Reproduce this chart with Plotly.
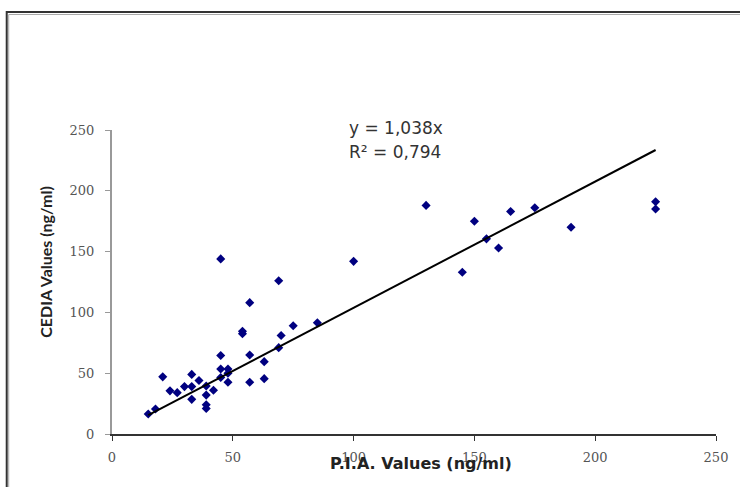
import plotly.graph_objects as go

# Data
pia_values = [15, 18, 21, 24, 27, 30, 33, 33, 33, 36, 39, 39, 39, 39, 42,
              45, 45, 45, 45, 48, 48, 48, 54, 54, 57, 57, 57, 63, 63, 69,
              70, 69, 75, 85, 100, 130, 145, 150, 155, 160, 165, 175, 190, 225, 225]
cedia_values = [16.5, 20.5, 47, 35.5, 34, 39, 49, 39, 28.5, 44, 39.5, 32, 24, 21, 36,
                144, 64.5, 53.5, 46.5, 53.5, 50, 42.5, 82.5, 84.5, 108, 65, 42.5, 59.5, 45.5, 126,
                81, 71, 89, 91.5, 142, 188, 133, 175, 160.5, 153, 183, 186, 170, 191, 185]
slope = 1.038
r2_text = "R² = 0,794"
eq_text = "y = 1,038x"
tick_vals = [0, 50, 100, 150, 200, 250]
x_title = "P.I.A. Values (ng/ml)"
y_title = "CEDIA Values (ng/ml)"

W, H = 740, 487
L, R, T, B = 112, 17, 130, 53
pw, ph = W - L - R, H - T - B


def px_x(p):
    return (p - L) / pw


def px_y(p):
    return (H - B - p) / ph


fig = go.Figure()
fig.add_trace(go.Scatter(
    x=pia_values, y=cedia_values, mode="markers",
    marker=dict(symbol="diamond", size=7, color="#000080", line=dict(width=0)),
    showlegend=False, hoverinfo="x+y"))

x_line = [min(pia_values), max(pia_values)]
fig.add_trace(go.Scatter(
    x=x_line, y=[slope * v for v in x_line], mode="lines",
    line=dict(color="black", width=2), showlegend=False))

tick_font = dict(family="DejaVu Serif", size=13, color="#555555")
fig.update_layout(
    width=W, height=H,
    margin=dict(l=L, r=R, t=T, b=B, pad=0),
    paper_bgcolor="white", plot_bgcolor="white",
    xaxis=dict(range=[0, 250], tickvals=tick_vals, showgrid=False, zeroline=False,
               showline=True, linecolor="#333333", linewidth=1.5,
               ticks="outside", ticklen=5, tickcolor="#333333",
               tickfont=tick_font, ticklabelstandoff=6),
    yaxis=dict(range=[0, 250], tickvals=tick_vals, showgrid=False, zeroline=False,
               showline=True, linecolor="#999999", linewidth=2,
               ticks="outside", ticklen=5, tickcolor="#999999",
               tickfont=tick_font, ticklabelstandoff=8),
    annotations=[
        dict(text=eq_text, xref="paper", yref="paper", x=px_x(350), y=px_y(128),
             xanchor="left", yanchor="middle", showarrow=False,
             font=dict(family="DejaVu Sans", size=17, color="#333333")),
        dict(text=r2_text, xref="paper", yref="paper", x=px_x(350), y=px_y(152),
             xanchor="left", yanchor="middle", showarrow=False,
             font=dict(family="DejaVu Sans", size=17, color="#333333")),
        dict(text="<b>" + x_title + "</b>", xref="paper", yref="paper",
             x=px_x(425), y=px_y(463), xanchor="center", yanchor="middle",
             showarrow=False, font=dict(family="DejaVu Sans", size=16, color="#222222")),
        dict(text="<b>" + y_title + "</b>", xref="paper", yref="paper",
             x=px_x(44), y=px_y(262), xanchor="center", yanchor="middle", textangle=-90,
             showarrow=False, font=dict(family="Lato", size=16, color="#222222")),
    ],
    shapes=[
        dict(type="rect", xref="paper", yref="paper",
             x0=px_x(5.5), x1=px_x(760), y0=px_y(510), y1=px_y(12),
             line=dict(color="#333333", width=2)),
        dict(type="rect", xref="paper", yref="paper",
             x0=px_x(7.5), x1=px_x(760), y0=px_y(510), y1=px_y(14.5),
             line=dict(color="#aaaaaa", width=1)),
    ],
)

fig.write_html("out.html", config={"displayModeBar": False},
               post_script="document.body.style.margin='0';document.body.style.overflow='hidden';")
